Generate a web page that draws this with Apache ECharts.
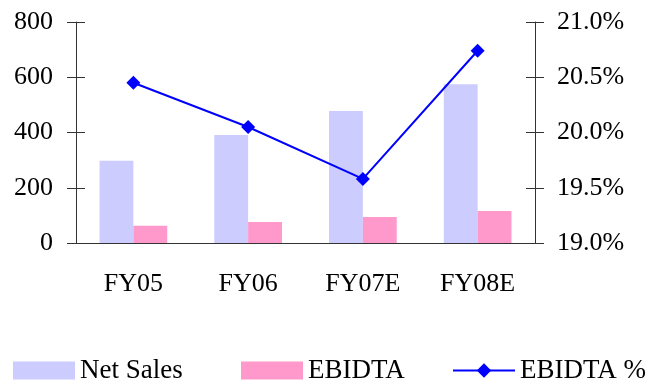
<!DOCTYPE html>
<html>
<head>
<meta charset="utf-8">
<script src="https://cdn.jsdelivr.net/npm/echarts@6/dist/echarts.min.js"></script>
<style>
  html, body { margin: 0; padding: 0; background: #fff; }
  #chart { width: 645px; height: 381px; }
</style>
</head>
<body>
<div id="chart"></div>
<script>
// data
const categories = ["FY05", "FY06", "FY07E", "FY08E"];
const netSales = [298, 391, 478, 575];
const ebidta = [62, 76, 94, 116];
const ebidtaPct = [20.45, 20.05, 19.58, 20.74];

const font = "Liberation Serif";
const axisColor = "#333";

let myChart = echarts.init(document.getElementById("chart"));

// legend items placed one by one to match the spacing
function legendAt(name, left, icon) {
	return {
		data: [icon ? { name: name, icon: icon } : name],
		left: left,
		top: 352,
		itemWidth: 62,
		itemHeight: 18,
		textStyle: { fontFamily: font, fontSize: 27, color: "#000" },
	};
}

myChart.setOption({
	animation: false,
	legend: [
		legendAt("Net Sales", 8, "rect"),
		legendAt("EBIDTA", 236, "rect"),
		legendAt("EBIDTA %", 447),
	],
	grid: {
		left: 76,
		right: 110,
		top: 22,
		bottom: 138,
	},
	xAxis: [
		{
			type: "category",
			data: categories,
			axisLine: { lineStyle: { color: axisColor } },
			axisTick: { length: 9, lineStyle: { color: axisColor } },
			axisLabel: { margin: 28, fontFamily: font, fontSize: 26, color: "#000" },
		},
		{
			// inner half of the crossing ticks
			type: "category",
			data: categories,
			position: "bottom",
			axisLine: { show: false },
			axisTick: { inside: true, length: 8, lineStyle: { color: axisColor } },
			axisLabel: { show: false },
		},
	],
	yAxis: [
		{
			type: "value",
			min: 0,
			max: 800,
			interval: 200,
			splitLine: { show: false },
			axisLine: { show: true, lineStyle: { color: axisColor } },
			axisTick: { show: true, length: 9, lineStyle: { color: axisColor } },
			axisLabel: { margin: 23, fontFamily: font, fontSize: 26, color: "#000" },
		},
		{
			type: "value",
			position: "right",
			min: 19,
			max: 21,
			interval: 0.5,
			splitLine: { show: false },
			axisLine: { show: true, lineStyle: { color: axisColor } },
			axisTick: { show: true, length: 9, lineStyle: { color: axisColor } },
			axisLabel: {
				margin: 22,
				fontFamily: font,
				fontSize: 26,
				color: "#000",
				formatter: (v) => v.toFixed(1) + "%",
			},
		},
		{
			type: "value",
			position: "left",
			min: 0,
			max: 800,
			interval: 200,
			splitLine: { show: false },
			axisLine: { show: false },
			axisTick: { show: true, inside: true, length: 9, lineStyle: { color: axisColor } },
			axisLabel: { show: false },
		},
		{
			type: "value",
			position: "right",
			min: 19,
			max: 21,
			interval: 0.5,
			splitLine: { show: false },
			axisLine: { show: false },
			axisTick: { show: true, inside: true, length: 9, lineStyle: { color: axisColor } },
			axisLabel: { show: false },
		},
	],
	series: [
		{
			name: "Net Sales",
			type: "bar",
			data: netSales,
			barGap: "0%",
			barCategoryGap: "41%",
			itemStyle: { color: "#CCCCFF" },
		},
		{
			name: "EBIDTA",
			type: "bar",
			data: ebidta,
			itemStyle: { color: "#FF99CC" },
		},
		{
			name: "EBIDTA %",
			type: "line",
			yAxisIndex: 1,
			data: ebidtaPct,
			symbol: "diamond",
			symbolSize: 14,
			lineStyle: { color: "#0000FF", width: 2 },
			itemStyle: { color: "#0000FF" },
		},
	],
});
</script>
</body>
</html>
